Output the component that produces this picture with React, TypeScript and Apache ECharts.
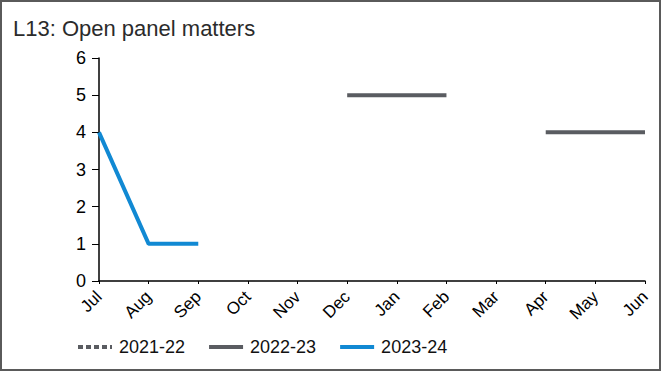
import React, { useEffect, useRef } from "react";
import * as echarts from "echarts";

const months = ["Jul", "Aug", "Sep", "Oct", "Nov", "Dec", "Jan", "Feb", "Mar", "Apr", "May", "Jun"];
const s2021_22: (number | null)[] = [null, null, null, null, null, null, null, null, null, null, null, null];
const s2022_23: (number | null)[] = [null, null, null, null, null, 5, 5, 5, null, 4, 4, 4];
const s2023_24: (number | null)[] = [4, 1, 1, null, null, null, null, null, null, null, null, null];
const yTicks = [0, 1, 2, 3, 4, 5, 6];

export default function App() {
  const ref = useRef<HTMLDivElement>(null);
  useEffect(() => {
    if (!ref.current) return;
    const chart = echarts.init(ref.current, null, { renderer: "svg" });
    const font = "Liberation Sans, Arial, sans-serif";
    chart.setOption({
      animation: false,
      backgroundColor: "#ffffff",
      textStyle: { fontFamily: font },
      title: {
        text: "L13: Open panel matters",
        left: 8,
        top: 12,
        textStyle: { fontFamily: font, fontSize: 22, fontWeight: "normal", color: "#2b2b2b" },
      },
      graphic: [
        {
          type: "rect",
          shape: { x: 1, y: 1, width: 659, height: 369 },
          style: { fill: "none", stroke: "#5a5a5a", lineWidth: 2 },
          silent: true,
        },
      ],
      grid: { left: 99, right: 17, top: 58, bottom: 91, containLabel: false },
      legend: {
        top: 333,
        left: 71,
        itemWidth: 34,
        itemHeight: 10,
        itemGap: 22,
        lineStyle: { width: 4 },
        itemStyle: { opacity: 0 },
        textStyle: { fontFamily: font, fontSize: 18, color: "#111", padding: [0, 0, 0, 2] },
        data: ["2021-22", "2022-23", "2023-24"],
      },
      xAxis: {
        type: "category",
        data: months,
        boundaryGap: false,
        axisLine: { lineStyle: { color: "#000", width: 1.5 } },
        axisTick: { show: true, alignWithLabel: true, length: 3, lineStyle: { color: "#000" } },
        axisLabel: { rotate: 45, fontSize: 17, color: "#000", margin: 13, fontFamily: font, interval: 0 },
        splitLine: { show: false },
      },
      yAxis: {
        type: "value",
        min: yTicks[0],
        max: yTicks[yTicks.length - 1],
        interval: 1,
        axisLine: { show: true, lineStyle: { color: "#000", width: 1.5 } },
        axisTick: { show: true, inside: false, length: 7, lineStyle: { color: "#000" } },
        axisLabel: { fontSize: 18, color: "#000", margin: 13, fontFamily: font },
        splitLine: { show: false },
      },
      series: [
        {
          name: "2021-22",
          type: "line",
          data: s2021_22,
          symbol: "none",
          connectNulls: false,
          itemStyle: { color: "#5a5c61" },
          lineStyle: { color: "#5a5c61", width: 4, type: [5, 3] },
        },
        {
          name: "2022-23",
          type: "line",
          data: s2022_23,
          symbol: "none",
          connectNulls: false,
          itemStyle: { color: "#5a5c61" },
          lineStyle: { color: "#5a5c61", width: 4 },
        },
        {
          name: "2023-24",
          type: "line",
          data: s2023_24,
          symbol: "none",
          connectNulls: false,
          itemStyle: { color: "#1189d3" },
          lineStyle: { color: "#1189d3", width: 4 },
        },
      ],
    });
    return () => chart.dispose();
  }, []);
  return (
    <div
      ref={ref}
      style={{ position: "fixed", left: 0, top: 0, width: 662, height: 372 }}
    />
  );
}
